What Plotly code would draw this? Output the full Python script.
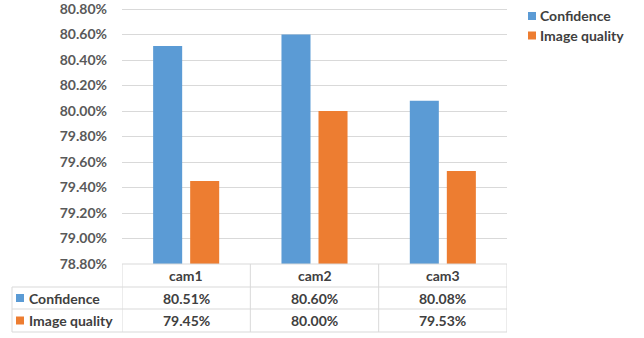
import plotly.graph_objects as go

# Chart data
categories = ["cam1", "cam2", "cam3"]
series_names = ["Confidence", "Image quality"]
confidence = [80.51, 80.60, 80.08]
image_quality = [79.45, 80.00, 79.53]
colors = ["#5B9BD5", "#ED7D31"]
y_ticks = [78.8, 79.0, 79.2, 79.4, 79.6, 79.8, 80.0, 80.2, 80.4, 80.6, 80.8]
y_range = [78.8, 80.8235]

W, H = 644, 338
L, R, T, B = 122, 137, 6, 74
plot_h = H - T - B
plot_w = W - L - R

FONT = "Lato"
TXT = "#404040"
GRID = "#D9D9D9"


def py(pix):
    """Pixel row -> paper y."""
    return (H - B - pix) / plot_h


def px(pix):
    """Pixel column -> paper x."""
    return (pix - L) / plot_w


fig = go.Figure()
for name, vals, col in zip(series_names, [confidence, image_quality], colors):
    fig.add_trace(go.Bar(x=categories, y=vals, name=name, marker_color=col,
                         marker_line_width=0, showlegend=False))

shapes = []
annotations = []

# Data table under the plot
row_tops = [H - B, 287, 309, 332]
table_left = px(12)
# horizontal rules
for i, yy in enumerate(row_tops):
    x0 = 0 if i == 0 else table_left
    shapes.append(dict(type="line", xref="paper", yref="paper", x0=x0, x1=1,
                       y0=py(yy), y1=py(yy), line=dict(color=GRID, width=1)))
# vertical rules
for k in range(len(categories) + 1):
    shapes.append(dict(type="line", xref="x", yref="paper", x0=k - 0.5, x1=k - 0.5,
                       y0=py(row_tops[0]), y1=py(row_tops[-1]),
                       line=dict(color=GRID, width=1)))
shapes.append(dict(type="line", xref="paper", yref="paper", x0=table_left, x1=table_left,
                   y0=py(row_tops[1]), y1=py(row_tops[-1]), line=dict(color=GRID, width=1)))

cell_font = dict(family=FONT, size=14, color=TXT, weight="bold")
for i, c in enumerate(categories):
    annotations.append(dict(x=c, xref="x", y=py((row_tops[0] + row_tops[1]) / 2), yref="paper",
                            text=c, showarrow=False, font=cell_font,
                            xanchor="center", yanchor="middle"))
for r, (name, vals, col) in enumerate(zip(series_names, [confidence, image_quality], colors)):
    ymid = py((row_tops[r + 1] + row_tops[r + 2]) / 2)
    for i, c in enumerate(categories):
        annotations.append(dict(x=c, xref="x", y=ymid, yref="paper", text=f"{vals[i]:.2f}%",
                                showarrow=False, font=cell_font,
                                xanchor="center", yanchor="middle"))
    # row header with colour key
    shapes.append(dict(type="rect", xref="paper", yref="paper", x0=px(16), x1=px(24),
                       y0=ymid - 4 / plot_h, y1=ymid + 4 / plot_h, fillcolor=col, line_width=0))
    annotations.append(dict(x=px(27), xref="paper", y=ymid, yref="paper", text=name,
                            xanchor="left", yanchor="middle", showarrow=False, font=cell_font))

# Legend at top right
for k, (name, col) in enumerate(zip(series_names, colors)):
    ymid = py(16 + k * 19.5)
    shapes.append(dict(type="rect", xref="paper", yref="paper", x0=px(528), x1=px(536),
                       y0=ymid - 4 / plot_h, y1=ymid + 4 / plot_h, fillcolor=col, line_width=0))
    annotations.append(dict(x=px(538), xref="paper", y=ymid, yref="paper", text=name,
                            xanchor="left", yanchor="middle", showarrow=False, font=cell_font))

fig.update_layout(
    width=W, height=H,
    margin=dict(l=L, r=R, t=T, b=B, autoexpand=False),
    paper_bgcolor="white", plot_bgcolor="white",
    barmode="group", bargap=0.423, bargroupgap=0.216,
    shapes=shapes, annotations=annotations,
    xaxis=dict(range=[-0.5, 2.5], showticklabels=False, showgrid=False, zeroline=False,
               showline=False, fixedrange=True),
    yaxis=dict(range=y_range, tickvals=y_ticks, ticktext=[f"{v:.2f}%" for v in y_ticks],
               showgrid=True, gridcolor=GRID, gridwidth=1, zeroline=False, showline=False,
               ticks="", ticklabelstandoff=14, ticklabeloverflow="allow",
               tickfont=dict(family=FONT, size=14, color="#595959", weight="bold")),
)

fig.write_html("out.html")
